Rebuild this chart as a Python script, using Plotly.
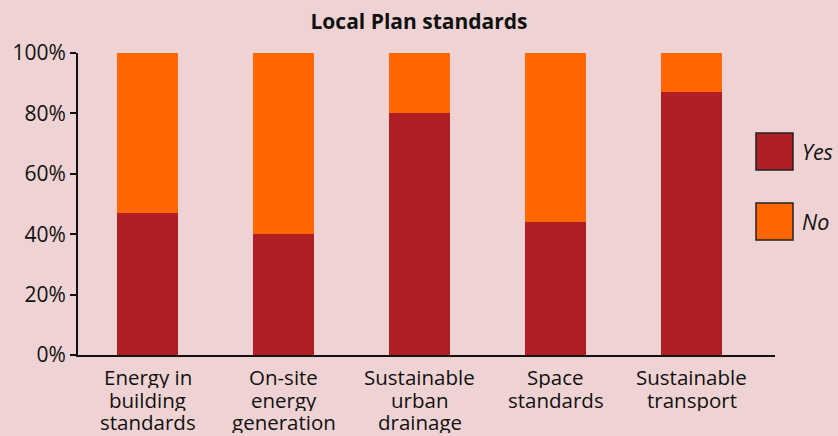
import plotly.graph_objects as go

# Share of Local Plans that set each standard
categories = [
    "Energy in<br>building<br>standards",
    "On-site<br>energy<br>generation",
    "Sustainable<br>urban<br>drainage",
    "Space<br>standards",
    "Sustainable<br>transport",
]
yes_pct = [47, 40, 80, 44, 87]
no_pct = [100 - v for v in yes_pct]
y_ticks = [0, 20, 40, 60, 80, 100]
y_tick_labels = [f"{v}%" for v in y_ticks]

YES_COLOR = "#b01f24"
NO_COLOR = "#ff6600"
BG = "#efd3d4"
INK = "#111111"
FONT = "Open Sans, Liberation Sans, Arial, sans-serif"

W, H = 838, 436
M_L, M_R, M_T, M_B = 78, 63, 53, 81

xs = list(range(len(categories)))

fig = go.Figure()
fig.add_trace(go.Bar(x=xs, y=yes_pct, name="Yes", marker=dict(color=YES_COLOR, line_width=0),
                     width=0.45, showlegend=False))
fig.add_trace(go.Bar(x=xs, y=no_pct, name="No", marker=dict(color=NO_COLOR, line_width=0),
                     width=0.45, showlegend=False))

plot_w = W - M_L - M_R
plot_h = H - M_T - M_B


def px_to_paper_x(px):
    return (px - M_L) / plot_w


def px_to_paper_y(py):
    return (H - M_B - py) / plot_h


shapes = []
annotations = []

# Category labels, one annotation per line for tight line spacing
LINE_STEP = 22.5
FIRST_MID = 377
for i, cat in enumerate(categories):
    for j, line in enumerate(cat.split("<br>")):
        annotations.append(dict(
            text=line, xref="x", yref="paper",
            x=i, y=px_to_paper_y(FIRST_MID + j * LINE_STEP),
            xanchor="center", yanchor="middle", showarrow=False,
            height=22, borderpad=0,
            font=dict(family=FONT, size=20.5, color=INK),
        ))

# Legend drawn as outlined swatches with italic labels
legend_items = [("Yes", YES_COLOR, 133), ("No", NO_COLOR, 203)]
for label, color, top in legend_items:
    shapes.append(dict(
        type="rect", xref="paper", yref="paper",
        x0=px_to_paper_x(756), x1=px_to_paper_x(793),
        y0=px_to_paper_y(top + 37), y1=px_to_paper_y(top),
        fillcolor=color, line=dict(color="#222222", width=1.5),
    ))
    annotations.append(dict(
        text=f"<i>{label}</i>", xref="paper", yref="paper",
        x=px_to_paper_x(800), y=px_to_paper_y(top + 18.5),
        xanchor="left", yanchor="middle", showarrow=False,
        font=dict(family=FONT, size=21.5, color=INK),
    ))

fig.update_layout(
    width=W, height=H,
    margin=dict(l=M_L, r=M_R, t=M_T, b=M_B, pad=0),
    paper_bgcolor=BG, plot_bgcolor=BG,
    barmode="stack",
    title=dict(text="<b>Local Plan standards</b>", x=0.5, xanchor="center",
               y=1 - 22 / H, yanchor="middle",
               font=dict(family=FONT, size=21, color=INK)),
    font=dict(family=FONT, size=21, color=INK),
    shapes=shapes,
    annotations=annotations,
    xaxis=dict(
        tickmode="array", tickvals=xs, ticktext=[""] * len(xs),
        range=[-0.511, 4.614],
        showline=True, linecolor=INK, linewidth=2,
        ticks="", showgrid=False, zeroline=False,
    ),
    yaxis=dict(
        range=[0, 100],
        tickmode="array", tickvals=y_ticks, ticktext=y_tick_labels,
        showline=True, linecolor=INK, linewidth=2,
        ticks="outside", ticklen=6, tickwidth=2, tickcolor=INK,
        showgrid=False, zeroline=False,
        tickfont=dict(size=21),
    ),
)

fig.write_html("out.html")
